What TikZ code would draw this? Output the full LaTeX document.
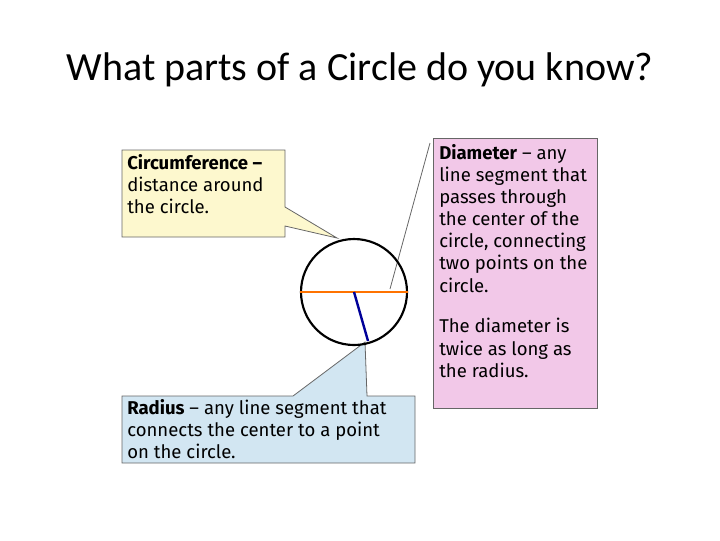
\documentclass[tikz,border=0pt]{standalone}
\usepackage{fontspec}
\setmainfont{Carlito}
\newfontfamily\boxfont{Fira Sans}
\definecolor{ybox}{RGB}{253,248,206}
\definecolor{bbox}{RGB}{210,230,242}
\definecolor{pbox}{RGB}{242,200,232}
\begin{document}
\begin{tikzpicture}[x=0.75pt,y=-0.75pt,
  txt/.style={font=\boxfont\fontsize{13.9}{16.6}\selectfont,align=left,anchor=north west,inner sep=0pt},
  bx/.style={draw=gray!80!black,line width=0.6pt}]
\useasboundingbox (0,0) rectangle (720,540);
\node[font=\fontsize{30}{34}\selectfont] (title) at (360,70) {What parts of a Circle do you know?};
% yellow box with callout
\filldraw[bx,fill=ybox] (122,150) -- (285,150) -- (285,207) -- (337,238) -- (285,226) -- (285,237) -- (122,237) -- cycle;
\node[txt] (circ) at (127,154) {\textbf{Circumference –}\\distance around\\the circle.};
% blue box with callout
\filldraw[bx,fill=bbox] (122,396) -- (293,396) -- (365,342) -- (367,396) -- (415,396) -- (415,463) -- (122,463) -- cycle;
\node[txt] (rad) at (127,399) {\textbf{Radius} – any line segment that\\connects the center to a point\\on the circle.};
% pink box
\filldraw[bx,fill=pbox] (433,138) rectangle (597,408);
\node[txt] (diam) at (439,144) {\textbf{Diameter} – any\\line segment that\\passes through\\the center of the\\circle, connecting\\two points on the\\circle.\\[14pt]The diameter is\\twice as long as\\the radius.};
\coordinate (dtop) at (430,143);
\coordinate (dtip) at (390,289);
\draw[gray!80!black,line width=0.6pt] (dtop) -- (dtip);
% circle
\node[circle,draw,line width=1.6pt,minimum size=106*0.75pt,inner sep=0pt] (c) at (354,292) {};
\draw[orange!90!red,line width=1.8pt] (c.west) -- (c.east);
\coordinate (rend) at (368,341);
\draw[blue!60!black,line width=1.8pt] (c.center) -- (rend);
\end{tikzpicture}
\end{document}
